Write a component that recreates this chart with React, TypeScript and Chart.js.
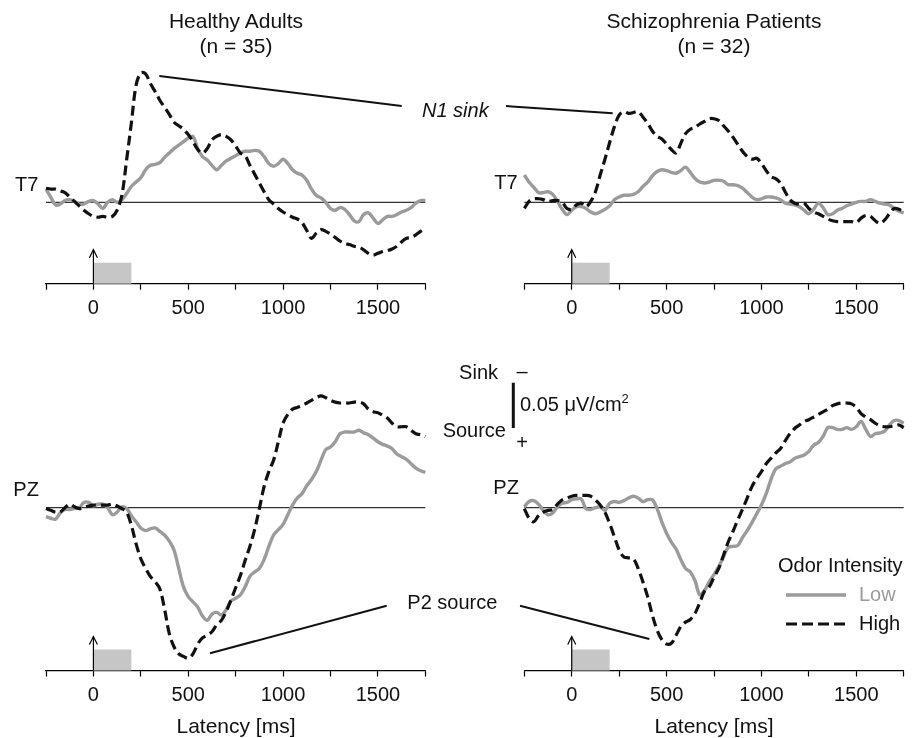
import React, { useEffect, useRef } from 'react';
import { Chart, registerables } from 'chart.js';

Chart.register(...registerables);

const FONT = "'Liberation Sans', Arial, Helvetica, sans-serif";
Chart.defaults.font.family = FONT;

// Latency axis (ms)
const latencyMs = [
  -250, -225, -200, -175, -150, -125, -100, -75, -50, -25,
  0, 25, 50, 75, 100, 125, 150, 175, 200, 225,
  250, 275, 300, 325, 350, 375, 400, 425, 450, 475,
  500, 525, 550, 575, 600, 625, 650, 675, 700, 725,
  750, 775, 800, 825, 850, 875, 900, 925, 950, 975,
  1000, 1025, 1050, 1075, 1100, 1125, 1150, 1175, 1200, 1225,
  1250, 1275, 1300, 1325, 1350, 1375, 1400, 1425, 1450, 1475,
  1500, 1525, 1550, 1575, 1600, 1625, 1650, 1675, 1700, 1725,
  1750,
];
const xMin = -250;
const xMax = 1750;
const xTickStep = 250;
const xTickLabels = [0, 500, 1000, 1500];
const stimulusOnsetMs = 0;
const stimulusOffsetMs = 200;

// CSD values in µV/cm² (negative = sink, drawn upward)
const t7HealthyHigh = [
  -0.016, -0.015, -0.015, -0.013, -0.011, -0.006, -0.001, 0.004, 0.009, 0.013,
  0.016, 0.017, 0.016, 0.017, 0.016, 0.009, -0.008, -0.048, -0.090, -0.133,
  -0.147, -0.146, -0.135, -0.126, -0.116, -0.108, -0.100, -0.091, -0.087, -0.083,
  -0.077, -0.069, -0.060, -0.056, -0.061, -0.071, -0.075, -0.077, -0.075, -0.071,
  -0.064, -0.056, -0.053, -0.042, -0.032, -0.022, -0.012, -0.003, 0.002, 0.007,
  0.011, 0.014, 0.017, 0.019, 0.023, 0.032, 0.041, 0.035, 0.031, 0.033,
  0.036, 0.040, 0.044, 0.047, 0.048, 0.050, 0.051, 0.054, 0.058, 0.060,
  0.058, 0.056, 0.055, 0.053, 0.050, 0.045, 0.041, 0.040, 0.037, 0.033,
  0.030,
];
const t7HealthyLow = [
  -0.015, -0.006, 0.003, 0.002, -0.002, -0.003, -0.001, 0.002, 0.002, -0.001,
  -0.002, 0.002, 0.007, 0.000, -0.003, 0.000, -0.003, -0.010, -0.018, -0.023,
  -0.028, -0.037, -0.042, -0.043, -0.045, -0.051, -0.056, -0.061, -0.065, -0.069,
  -0.073, -0.075, -0.061, -0.052, -0.048, -0.042, -0.037, -0.042, -0.047, -0.050,
  -0.053, -0.056, -0.058, -0.058, -0.059, -0.058, -0.052, -0.044, -0.041, -0.044,
  -0.049, -0.044, -0.037, -0.033, -0.031, -0.025, -0.015, -0.008, -0.005, 0.000,
  0.007, 0.009, 0.006, 0.008, 0.014, 0.021, 0.022, 0.014, 0.012, 0.018,
  0.024, 0.020, 0.016, 0.016, 0.014, 0.011, 0.009, 0.006, 0.001, -0.002,
  -0.002,
];
const t7PatientsHigh = [
  0.007, -0.001, -0.004, -0.004, -0.003, -0.001, -0.002, -0.002, 0.000, 0.007,
  0.008, 0.003, 0.001, 0.005, -0.001, -0.012, -0.031, -0.049, -0.068, -0.086,
  -0.099, -0.103, -0.101, -0.102, -0.103, -0.097, -0.090, -0.081, -0.075, -0.072,
  -0.066, -0.060, -0.056, -0.067, -0.078, -0.083, -0.085, -0.089, -0.092, -0.095,
  -0.095, -0.093, -0.087, -0.081, -0.074, -0.066, -0.058, -0.052, -0.049, -0.050,
  -0.044, -0.036, -0.029, -0.027, -0.022, -0.012, -0.003, 0.001, 0.002, 0.001,
  0.007, 0.011, 0.013, 0.016, 0.019, 0.021, 0.022, 0.022, 0.022, 0.022,
  0.023, 0.018, 0.015, 0.016, 0.021, 0.024, 0.020, 0.013, 0.007, 0.008,
  0.011,
];
const t7PatientsLow = [
  -0.031, -0.023, -0.017, -0.011, -0.011, -0.012, -0.009, -0.001, 0.008, 0.014,
  0.009, 0.005, 0.005, 0.007, 0.011, 0.013, 0.011, 0.008, 0.004, -0.003,
  -0.006, -0.008, -0.008, -0.009, -0.012, -0.018, -0.023, -0.030, -0.035, -0.037,
  -0.036, -0.034, -0.033, -0.036, -0.040, -0.034, -0.027, -0.023, -0.022, -0.023,
  -0.025, -0.025, -0.024, -0.020, -0.020, -0.019, -0.016, -0.011, -0.006, -0.003,
  -0.004, -0.006, -0.006, -0.005, -0.003, 0.001, 0.002, 0.003, 0.005, 0.009,
  0.013, 0.008, 0.001, 0.006, 0.014, 0.013, 0.009, 0.007, 0.004, 0.002,
  0.000, -0.001, -0.001, -0.003, -0.001, 0.001, 0.002, 0.003, 0.007, 0.010,
  0.012,
];
const pzHealthyHigh = [
  0.001, 0.003, 0.005, 0.005, 0.000, -0.004, -0.001, 0.001, 0.000, -0.002,
  -0.003, -0.003, -0.003, -0.003, -0.004, -0.002, 0.001, 0.005, 0.020, 0.041,
  0.058, 0.069, 0.078, 0.084, 0.092, 0.115, 0.143, 0.158, 0.166, 0.169,
  0.171, 0.166, 0.155, 0.148, 0.145, 0.141, 0.133, 0.128, 0.118, 0.105,
  0.091, 0.077, 0.060, 0.044, 0.025, 0.001, -0.024, -0.041, -0.054, -0.075,
  -0.096, -0.106, -0.112, -0.114, -0.116, -0.119, -0.122, -0.125, -0.127, -0.125,
  -0.122, -0.120, -0.119, -0.119, -0.119, -0.120, -0.120, -0.118, -0.112, -0.109,
  -0.108, -0.105, -0.102, -0.096, -0.092, -0.092, -0.092, -0.088, -0.084, -0.083,
  -0.081,
];
const pzHealthyLow = [
  0.010, 0.012, 0.013, 0.006, 0.002, 0.002, 0.001, 0.000, -0.006, -0.006,
  -0.002, -0.004, -0.004, 0.000, 0.008, 0.005, -0.001, 0.001, 0.009, 0.016,
  0.023, 0.026, 0.024, 0.023, 0.027, 0.031, 0.038, 0.048, 0.069, 0.090,
  0.101, 0.107, 0.113, 0.123, 0.128, 0.121, 0.119, 0.122, 0.116, 0.106,
  0.103, 0.099, 0.090, 0.078, 0.073, 0.069, 0.059, 0.044, 0.031, 0.025,
  0.019, 0.008, -0.003, -0.011, -0.016, -0.025, -0.032, -0.041, -0.054, -0.066,
  -0.069, -0.075, -0.084, -0.086, -0.086, -0.086, -0.088, -0.085, -0.083, -0.079,
  -0.075, -0.072, -0.070, -0.067, -0.061, -0.058, -0.055, -0.050, -0.045, -0.042,
  -0.040,
];
const pzPatientsHigh = [
  0.001, 0.012, 0.016, 0.009, 0.005, 0.003, 0.002, -0.004, -0.009, -0.011,
  -0.013, -0.014, -0.014, -0.014, -0.013, -0.009, -0.003, 0.005, 0.018, 0.033,
  0.048, 0.056, 0.057, 0.058, 0.069, 0.084, 0.101, 0.122, 0.139, 0.150,
  0.155, 0.154, 0.145, 0.135, 0.130, 0.127, 0.120, 0.108, 0.095, 0.090,
  0.079, 0.069, 0.054, 0.039, 0.027, 0.014, 0.002, -0.011, -0.024, -0.033,
  -0.041, -0.050, -0.056, -0.062, -0.067, -0.076, -0.084, -0.090, -0.094, -0.098,
  -0.100, -0.103, -0.106, -0.109, -0.112, -0.116, -0.118, -0.119, -0.119, -0.118,
  -0.114, -0.107, -0.103, -0.100, -0.096, -0.093, -0.092, -0.092, -0.093, -0.094,
  -0.091,
];
const pzPatientsLow = [
  -0.001, -0.007, -0.008, -0.004, 0.003, 0.008, 0.006, -0.001, -0.005, -0.006,
  -0.009, -0.010, -0.010, 0.001, 0.002, 0.000, -0.001, 0.003, -0.005, -0.007,
  -0.006, -0.008, -0.011, -0.013, -0.011, -0.007, -0.009, -0.009, 0.001, 0.016,
  0.029, 0.039, 0.047, 0.059, 0.069, 0.073, 0.083, 0.099, 0.094, 0.084,
  0.076, 0.067, 0.056, 0.045, 0.044, 0.043, 0.034, 0.026, 0.017, 0.007,
  -0.003, -0.016, -0.032, -0.044, -0.047, -0.050, -0.052, -0.056, -0.058, -0.060,
  -0.064, -0.071, -0.074, -0.081, -0.091, -0.091, -0.089, -0.089, -0.091, -0.089,
  -0.092, -0.098, -0.089, -0.081, -0.084, -0.085, -0.087, -0.094, -0.099, -0.099,
  -0.096,
];

const LOW_COLOR = '#9b9b9b';
const HIGH_COLOR = '#111111';
const STIM_COLOR = '#c6c6c6';

type Box = { left: number; top: number; width: number; height: number };
type Pad = { left: number; right: number; top: number; bottom: number };

const panelMarks = {
  id: 'panelMarks',
  beforeDatasetsDraw(chart: any) {
    const { ctx, chartArea, scales } = chart;
    const x = scales.x;
    const y = scales.y;
    const y0 = y.getPixelForValue(0);
    ctx.save();
    // zero line
    ctx.strokeStyle = '#000';
    ctx.lineWidth = 1;
    ctx.beginPath();
    ctx.moveTo(x.getPixelForValue(xMin), y0);
    ctx.lineTo(x.getPixelForValue(xMax), y0);
    ctx.stroke();
    // stimulus block
    const xa = x.getPixelForValue(stimulusOnsetMs);
    const xb = x.getPixelForValue(stimulusOffsetMs);
    const yb = chartArea.bottom;
    ctx.fillStyle = STIM_COLOR;
    ctx.fillRect(xa, yb - 21, xb - xa, 21);
    // onset arrow
    ctx.strokeStyle = '#000';
    ctx.lineWidth = 1.2;
    ctx.beginPath();
    ctx.moveTo(xa, yb);
    ctx.lineTo(xa, yb - 34);
    ctx.stroke();
    ctx.beginPath();
    ctx.moveTo(xa - 4, yb - 26);
    ctx.lineTo(xa, yb - 34);
    ctx.lineTo(xa + 4, yb - 26);
    ctx.stroke();
    ctx.restore();
  },
};

function Panel(props: { low: number[]; high: number[]; yMin: number; yMax: number; box: Box; pad: Pad }) {
  const { low, high, yMin, yMax, box, pad } = props;
  const ref = useRef<HTMLCanvasElement | null>(null);
  useEffect(() => {
    const canvas = ref.current;
    if (!canvas) return;
    const chart = new Chart(canvas, {
      type: 'line',
      data: {
        datasets: [
          {
            label: 'High',
            data: latencyMs.map((t, i) => ({ x: t, y: high[i] })),
            borderColor: HIGH_COLOR,
            borderWidth: 3.2,
            borderDash: [10, 5],
            pointRadius: 0,
            tension: 0.35,
            fill: false,
            clip: false as any,
          },
          {
            label: 'Low',
            data: latencyMs.map((t, i) => ({ x: t, y: low[i] })),
            borderColor: LOW_COLOR,
            borderWidth: 3.4,
            pointRadius: 0,
            tension: 0.35,
            fill: false,
            clip: false as any,
          },
        ],
      },
      options: {
        animation: false,
        responsive: false,
        maintainAspectRatio: false,
        layout: { padding: pad },
        plugins: { legend: { display: false }, tooltip: { enabled: false }, title: { display: false } },
        scales: {
          x: {
            type: 'linear',
            min: xMin,
            max: xMax,
            afterFit: (s: any) => {
              s.height = 40;
            },
            ticks: {
              stepSize: xTickStep,
              autoSkip: false,
              maxRotation: 0,
              padding: 7,
              color: '#111',
              font: { family: FONT, size: 20 },
              callback: (v: any) => (xTickLabels.includes(Number(v)) ? String(v) : ''),
            },
            grid: {
              display: true,
              drawOnChartArea: false,
              drawTicks: true,
              tickLength: 6,
              tickColor: '#000',
              tickWidth: 1.2,
              color: '#000',
            },
            border: { display: true, color: '#000', width: 1.2 },
          },
          y: {
            type: 'linear',
            display: false,
            min: yMin,
            max: yMax,
            reverse: true,
          },
        },
      } as any,
      plugins: [panelMarks],
    });
    return () => chart.destroy();
  }, [low, high, yMin, yMax]);
  return (
    <canvas
      ref={ref}
      width={box.width}
      height={box.height}
      style={{ position: 'absolute', left: box.left, top: box.top, width: box.width, height: box.height }}
    />
  );
}

const topRange = { min: -0.17, max: 0.0925 };
const bottomRange = { min: -0.17, max: 0.185 };

export default function App() {
  const txt = { fontFamily: FONT, fill: '#111' } as const;
  return (
    <div style={{ position: 'fixed', left: 0, top: 0, width: 912, height: 738, background: '#fff', overflow: 'hidden' }}>
      <Panel low={t7HealthyLow} high={t7HealthyHigh} yMin={topRange.min} yMax={topRange.max}
        box={{ left: 0, top: 0, width: 456, height: 330 }} pad={{ left: 46, right: 30.7, top: 52.7, bottom: 6.3 }} />
      <Panel low={t7PatientsLow} high={t7PatientsHigh} yMin={topRange.min} yMax={topRange.max}
        box={{ left: 456, top: 0, width: 456, height: 330 }} pad={{ left: 68.3, right: 8.3, top: 52.7, bottom: 6.3 }} />
      <Panel low={pzHealthyLow} high={pzHealthyHigh} yMin={bottomRange.min} yMax={bottomRange.max}
        box={{ left: 0, top: 330, width: 456, height: 400 }} pad={{ left: 46, right: 30.7, top: 28.1, bottom: 19.5 }} />
      <Panel low={pzPatientsLow} high={pzPatientsHigh} yMin={bottomRange.min} yMax={bottomRange.max}
        box={{ left: 456, top: 330, width: 456, height: 400 }} pad={{ left: 68.3, right: 8.3, top: 28.1, bottom: 19.5 }} />
      <svg width={912} height={738} style={{ position: 'absolute', left: 0, top: 0, pointerEvents: 'none' }}>
        <g {...txt} fontSize={21} textAnchor="middle">
          <text x={236} y={28.3}>Healthy Adults</text>
          <text x={236} y={52.5}>(n = 35)</text>
          <text x={714} y={28.3}>Schizophrenia Patients</text>
          <text x={714} y={52.5}>(n = 32)</text>
          <text x={236} y={733}>Latency [ms]</text>
          <text x={714} y={733}>Latency [ms]</text>
        </g>
        <g {...txt} fontSize={20}>
          <text x={15} y={190.5}>T7</text>
          <text x={494.3} y={189}>T7</text>
          <text x={13.3} y={496}>PZ</text>
          <text x={493.3} y={494}>PZ</text>
          <text x={422} y={116.5} fontStyle="italic">N1 sink</text>
          <text x={407.3} y={609}>P2 source</text>
          <text x={498} y={379} textAnchor="end">Sink</text>
          <text x={506} y={436.5} textAnchor="end">Source</text>
          <text x={522} y={378} textAnchor="middle">–</text>
          <text x={522} y={448.5} textAnchor="middle">+</text>
          <text x={520} y={410.7}>
            0.05 μV/cm<tspan dy={-8} fontSize={13}>2</tspan>
          </text>
          <text x={778} y={571.5}>Odor Intensity</text>
          <text x={859} y={601} fill={LOW_COLOR}>Low</text>
          <text x={859} y={630}>High</text>
        </g>
        <g stroke="#111" strokeWidth={2} fill="none">
          <line x1={159.3} y1={76} x2={401.7} y2={106} />
          <line x1={506} y1={106} x2={612.7} y2={113.3} />
          <line x1={210} y1={653.3} x2={386.7} y2={605.7} />
          <line x1={520} y1={605.7} x2={649.3} y2={639} />
        </g>
        <line x1={513.3} y1={382.7} x2={513.3} y2={428} stroke="#111" strokeWidth={3} />
        <line x1={786} y1={595} x2={846} y2={595} stroke={LOW_COLOR} strokeWidth={3.4} />
        <line x1={786} y1={624} x2={846} y2={624} stroke={HIGH_COLOR} strokeWidth={3.2} strokeDasharray="11 5" />
      </svg>
    </div>
  );
}
